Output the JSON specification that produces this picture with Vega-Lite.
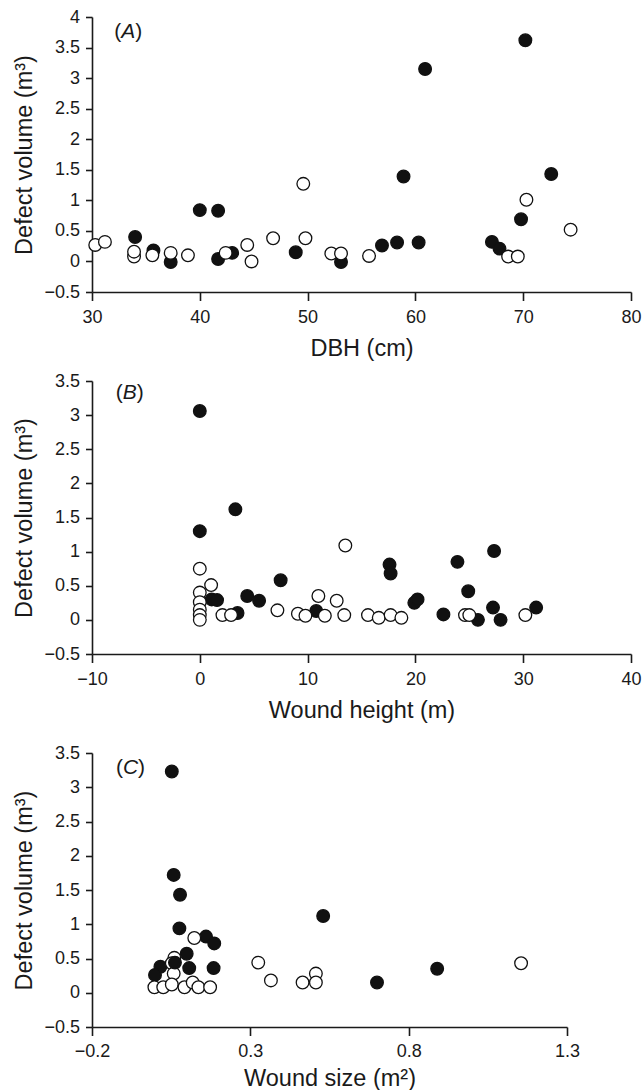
{
  "$schema": "https://vega.github.io/schema/vega-lite/v6.json",
  "background": "white",
  "padding": {"left": 12, "top": 8, "right": 0, "bottom": 0},
  "spacing": 12,
  "config": {
    "font": "Liberation Sans",
    "view": {"stroke": null},
    "axis": {
      "grid": false,
      "domainColor": "#1a1a1a",
      "domainWidth": 1.6,
      "tickColor": "#1a1a1a",
      "tickWidth": 1.6,
      "labelFont": "Liberation Sans",
      "labelFontSize": 18,
      "labelColor": "#1a1a1a",
      "labelFlush": false,
      "labelOverlap": false,
      "labelBound": false,
      "labelExpr": "format(datum.value, '~g')",
      "titleFont": "Liberation Sans",
      "titleFontSize": 23.5,
      "titleFontWeight": "normal",
      "titleColor": "#1a1a1a"
    },
    "axisX": {"tickSize": 8.5, "labelPadding": 8, "titlePadding": 10},
    "axisY": {"tickSize": 6.5, "labelPadding": 6, "titlePadding": 7.5}
  },
  "vconcat": [
    {
      "width": 539,
      "height": 275,
      "resolve": {"axis": {"x": "independent", "y": "independent"}},
      "layer": [
        {
          "data": {"values": [
            {"dbh": 34.0, "vol": 0.40, "type": "filled"},
            {"dbh": 35.7, "vol": 0.18, "type": "filled"},
            {"dbh": 37.3, "vol": -0.01, "type": "filled"},
            {"dbh": 40.0, "vol": 0.84, "type": "filled"},
            {"dbh": 41.7, "vol": 0.83, "type": "filled"},
            {"dbh": 41.7, "vol": 0.04, "type": "filled"},
            {"dbh": 43.0, "vol": 0.14, "type": "filled"},
            {"dbh": 48.9, "vol": 0.15, "type": "filled"},
            {"dbh": 53.1, "vol": -0.01, "type": "filled"},
            {"dbh": 56.9, "vol": 0.26, "type": "filled"},
            {"dbh": 58.3, "vol": 0.31, "type": "filled"},
            {"dbh": 58.9, "vol": 1.39, "type": "filled"},
            {"dbh": 60.3, "vol": 0.31, "type": "filled"},
            {"dbh": 60.9, "vol": 3.15, "type": "filled"},
            {"dbh": 67.1, "vol": 0.32, "type": "filled"},
            {"dbh": 67.8, "vol": 0.21, "type": "filled"},
            {"dbh": 69.8, "vol": 0.69, "type": "filled"},
            {"dbh": 70.2, "vol": 3.62, "type": "filled"},
            {"dbh": 72.6, "vol": 1.43, "type": "filled"},
            {"dbh": 30.3, "vol": 0.27, "type": "open"},
            {"dbh": 31.2, "vol": 0.32, "type": "open"},
            {"dbh": 33.9, "vol": 0.08, "type": "open"},
            {"dbh": 33.9, "vol": 0.16, "type": "open"},
            {"dbh": 35.6, "vol": 0.10, "type": "open"},
            {"dbh": 37.3, "vol": 0.14, "type": "open"},
            {"dbh": 38.9, "vol": 0.10, "type": "open"},
            {"dbh": 42.4, "vol": 0.14, "type": "open"},
            {"dbh": 44.4, "vol": 0.27, "type": "open"},
            {"dbh": 44.8, "vol": 0.0, "type": "open"},
            {"dbh": 46.8, "vol": 0.38, "type": "open"},
            {"dbh": 49.6, "vol": 1.27, "type": "open"},
            {"dbh": 49.8, "vol": 0.38, "type": "open"},
            {"dbh": 52.2, "vol": 0.13, "type": "open"},
            {"dbh": 53.1, "vol": 0.13, "type": "open"},
            {"dbh": 55.7, "vol": 0.09, "type": "open"},
            {"dbh": 68.6, "vol": 0.08, "type": "open"},
            {"dbh": 69.5, "vol": 0.08, "type": "open"},
            {"dbh": 70.3, "vol": 1.01, "type": "open"},
            {"dbh": 74.4, "vol": 0.52, "type": "open"}
          ]},
          "mark": {"type": "point", "shape": "circle", "filled": true, "size": 160, "stroke": "#111", "strokeWidth": 1.3, "opacity": 1},
          "encoding": {
            "x": {"field": "dbh", "type": "quantitative", "title": "DBH (cm)",
                  "scale": {"domain": [30, 80], "nice": false, "zero": false},
                  "axis": {"values": [30, 40, 50, 60, 70, 80]}},
            "y": {"field": "vol", "type": "quantitative", "title": "Defect volume (m³)",
                  "scale": {"domain": [-0.5, 4], "nice": false, "zero": false},
                  "axis": {"values": [-0.5, 0, 0.5, 1, 1.5, 2, 2.5, 3, 3.5, 4]}},
            "fill": {"field": "type", "type": "nominal", "scale": {"domain": ["filled", "open"], "range": ["#111111", "#ffffff"]}, "legend": null}
          }
        },
        {
          "data": {"values": [{"dbh": 32.07, "vol": 3.75}]},
          "mark": {"type": "text", "text": "(", "align": "left", "baseline": "middle", "fontSize": 21, "color": "#1a1a1a"},
          "encoding": {"x": {"field": "dbh", "type": "quantitative", "axis": null}, "y": {"field": "vol", "type": "quantitative", "axis": null}}
        },
        {
          "data": {"values": [{"dbh": 32.07, "vol": 3.75}]},
          "mark": {"type": "text", "text": "A", "align": "left", "baseline": "middle", "fontSize": 21, "fontStyle": "italic", "dx": 7, "color": "#1a1a1a"},
          "encoding": {"x": {"field": "dbh", "type": "quantitative", "axis": null}, "y": {"field": "vol", "type": "quantitative", "axis": null}}
        },
        {
          "data": {"values": [{"dbh": 32.07, "vol": 3.75}]},
          "mark": {"type": "text", "text": ")", "align": "left", "baseline": "middle", "fontSize": 21, "dx": 21, "color": "#1a1a1a"},
          "encoding": {"x": {"field": "dbh", "type": "quantitative", "axis": null}, "y": {"field": "vol", "type": "quantitative", "axis": null}}
        }
      ]
    },
    {
      "spacing": 22,
      "vconcat": [
        {
          "width": 539,
          "height": 273,
          "resolve": {"axis": {"x": "independent", "y": "independent"}},
          "layer": [
            {
              "data": {"values": [
                {"h": 0, "vol": 3.06, "type": "filled"},
                {"h": 0, "vol": 1.30, "type": "filled"},
                {"h": 3.3, "vol": 1.62, "type": "filled"},
                {"h": 7.5, "vol": 0.58, "type": "filled"},
                {"h": 17.6, "vol": 0.81, "type": "filled"},
                {"h": 17.7, "vol": 0.68, "type": "filled"},
                {"h": 23.9, "vol": 0.85, "type": "filled"},
                {"h": 27.3, "vol": 1.01, "type": "filled"},
                {"h": 24.9, "vol": 0.42, "type": "filled"},
                {"h": 1.1, "vol": 0.30, "type": "filled"},
                {"h": 1.6, "vol": 0.29, "type": "filled"},
                {"h": 3.5, "vol": 0.10, "type": "filled"},
                {"h": 4.4, "vol": 0.35, "type": "filled"},
                {"h": 5.5, "vol": 0.28, "type": "filled"},
                {"h": 10.8, "vol": 0.13, "type": "filled"},
                {"h": 19.9, "vol": 0.25, "type": "filled"},
                {"h": 20.2, "vol": 0.30, "type": "filled"},
                {"h": 22.6, "vol": 0.08, "type": "filled"},
                {"h": 25.8, "vol": 0.0, "type": "filled"},
                {"h": 27.2, "vol": 0.18, "type": "filled"},
                {"h": 27.9, "vol": 0.0, "type": "filled"},
                {"h": 31.2, "vol": 0.18, "type": "filled"},
                {"h": 0, "vol": 0.75, "type": "open"},
                {"h": 1.05, "vol": 0.51, "type": "open"},
                {"h": 0, "vol": 0.40, "type": "open"},
                {"h": 0, "vol": 0.26, "type": "open"},
                {"h": 0, "vol": 0.15, "type": "open"},
                {"h": 0, "vol": 0.07, "type": "open"},
                {"h": 0, "vol": 0.0, "type": "open"},
                {"h": 2.1, "vol": 0.07, "type": "open"},
                {"h": 2.9, "vol": 0.07, "type": "open"},
                {"h": 7.2, "vol": 0.14, "type": "open"},
                {"h": 9.1, "vol": 0.09, "type": "open"},
                {"h": 9.8, "vol": 0.06, "type": "open"},
                {"h": 11.0, "vol": 0.35, "type": "open"},
                {"h": 11.6, "vol": 0.06, "type": "open"},
                {"h": 12.7, "vol": 0.28, "type": "open"},
                {"h": 13.4, "vol": 0.07, "type": "open"},
                {"h": 13.5, "vol": 1.09, "type": "open"},
                {"h": 15.6, "vol": 0.07, "type": "open"},
                {"h": 16.6, "vol": 0.03, "type": "open"},
                {"h": 17.7, "vol": 0.07, "type": "open"},
                {"h": 18.7, "vol": 0.03, "type": "open"},
                {"h": 24.6, "vol": 0.07, "type": "open"},
                {"h": 25.0, "vol": 0.07, "type": "open"},
                {"h": 30.2, "vol": 0.07, "type": "open"}
              ]},
              "mark": {"type": "point", "shape": "circle", "filled": true, "size": 160, "stroke": "#111", "strokeWidth": 1.3, "opacity": 1},
              "encoding": {
                "x": {"field": "h", "type": "quantitative", "title": "Wound height (m)",
                      "scale": {"domain": [-10, 40], "nice": false, "zero": false},
                      "axis": {"values": [-10, 0, 10, 20, 30, 40]}},
                "y": {"field": "vol", "type": "quantitative", "title": "Defect volume (m³)",
                      "scale": {"domain": [-0.5, 3.5], "nice": false, "zero": false},
                      "axis": {"values": [-0.5, 0, 0.5, 1, 1.5, 2, 2.5, 3, 3.5]}},
                "fill": {"field": "type", "type": "nominal", "scale": {"domain": ["filled", "open"], "range": ["#111111", "#ffffff"]}, "legend": null}
              }
            },
            {
              "data": {"values": [{"h": -7.8, "vol": 3.33}]},
              "mark": {"type": "text", "text": "(", "align": "left", "baseline": "middle", "fontSize": 21, "color": "#1a1a1a"},
              "encoding": {"x": {"field": "h", "type": "quantitative", "axis": null}, "y": {"field": "vol", "type": "quantitative", "axis": null}}
            },
            {
              "data": {"values": [{"h": -7.8, "vol": 3.33}]},
              "mark": {"type": "text", "text": "B", "align": "left", "baseline": "middle", "fontSize": 21, "fontStyle": "italic", "dx": 7, "color": "#1a1a1a"},
              "encoding": {"x": {"field": "h", "type": "quantitative", "axis": null}, "y": {"field": "vol", "type": "quantitative", "axis": null}}
            },
            {
              "data": {"values": [{"h": -7.8, "vol": 3.33}]},
              "mark": {"type": "text", "text": ")", "align": "left", "baseline": "middle", "fontSize": 21, "dx": 21, "color": "#1a1a1a"},
              "encoding": {"x": {"field": "h", "type": "quantitative", "axis": null}, "y": {"field": "vol", "type": "quantitative", "axis": null}}
            }
          ]
        },
        {
          "width": 475,
          "height": 274,
          "resolve": {"axis": {"x": "independent", "y": "independent"}},
          "layer": [
            {
              "data": {"values": [
                {"s": 0.052, "vol": 3.23, "type": "filled"},
                {"s": 0.058, "vol": 1.72, "type": "filled"},
                {"s": 0.078, "vol": 1.43, "type": "filled"},
                {"s": 0.076, "vol": 0.94, "type": "filled"},
                {"s": 0.16, "vol": 0.82, "type": "filled"},
                {"s": 0.186, "vol": 0.72, "type": "filled"},
                {"s": 0.099, "vol": 0.57, "type": "filled"},
                {"s": 0.107, "vol": 0.36, "type": "filled"},
                {"s": 0.184, "vol": 0.36, "type": "filled"},
                {"s": 0.016, "vol": 0.38, "type": "filled"},
                {"s": -0.001, "vol": 0.26, "type": "filled"},
                {"s": 0.53, "vol": 1.12, "type": "filled"},
                {"s": 0.70, "vol": 0.15, "type": "filled"},
                {"s": 0.89, "vol": 0.35, "type": "filled"},
                {"s": 0.123, "vol": 0.80, "type": "open"},
                {"s": 0.06, "vol": 0.51, "type": "open"},
                {"s": 0.052, "vol": 0.43, "type": "open"},
                {"s": 0.058, "vol": 0.28, "type": "open"},
                {"s": -0.003, "vol": 0.08, "type": "open"},
                {"s": 0.025, "vol": 0.08, "type": "open"},
                {"s": 0.052, "vol": 0.12, "type": "open"},
                {"s": 0.092, "vol": 0.08, "type": "open"},
                {"s": 0.118, "vol": 0.15, "type": "open"},
                {"s": 0.136, "vol": 0.08, "type": "open"},
                {"s": 0.173, "vol": 0.08, "type": "open"},
                {"s": 0.325, "vol": 0.44, "type": "open"},
                {"s": 0.365, "vol": 0.18, "type": "open"},
                {"s": 0.465, "vol": 0.15, "type": "open"},
                {"s": 0.507, "vol": 0.28, "type": "open"},
                {"s": 0.507, "vol": 0.15, "type": "open"},
                {"s": 1.155, "vol": 0.43, "type": "open"},
                {"s": 0.062, "vol": 0.44, "type": "filled"}
              ]},
              "mark": {"type": "point", "shape": "circle", "filled": true, "size": 160, "stroke": "#111", "strokeWidth": 1.3, "opacity": 1},
              "encoding": {
                "x": {"field": "s", "type": "quantitative", "title": "Wound size (m²)",
                      "scale": {"domain": [-0.2, 1.3], "nice": false, "zero": false},
                      "axis": {"values": [-0.2, 0.3, 0.8, 1.3], "labelPadding": 6.5, "titlePadding": 6.5}},
                "y": {"field": "vol", "type": "quantitative", "title": "Defect volume (m³)",
                      "scale": {"domain": [-0.5, 3.5], "nice": false, "zero": false},
                      "axis": {"values": [-0.5, 0, 0.5, 1, 1.5, 2, 2.5, 3, 3.5]}},
                "fill": {"field": "type", "type": "nominal", "scale": {"domain": ["filled", "open"], "range": ["#111111", "#ffffff"]}, "legend": null}
              }
            },
            {
              "data": {"values": [{"s": -0.124, "vol": 3.28}]},
              "mark": {"type": "text", "text": "(", "align": "left", "baseline": "middle", "fontSize": 21, "color": "#1a1a1a"},
              "encoding": {"x": {"field": "s", "type": "quantitative", "axis": null}, "y": {"field": "vol", "type": "quantitative", "axis": null}}
            },
            {
              "data": {"values": [{"s": -0.124, "vol": 3.28}]},
              "mark": {"type": "text", "text": "C", "align": "left", "baseline": "middle", "fontSize": 21, "fontStyle": "italic", "dx": 7, "color": "#1a1a1a"},
              "encoding": {"x": {"field": "s", "type": "quantitative", "axis": null}, "y": {"field": "vol", "type": "quantitative", "axis": null}}
            },
            {
              "data": {"values": [{"s": -0.124, "vol": 3.28}]},
              "mark": {"type": "text", "text": ")", "align": "left", "baseline": "middle", "fontSize": 21, "dx": 22, "color": "#1a1a1a"},
              "encoding": {"x": {"field": "s", "type": "quantitative", "axis": null}, "y": {"field": "vol", "type": "quantitative", "axis": null}}
            }
          ]
        }
      ]
    }
  ]
}
